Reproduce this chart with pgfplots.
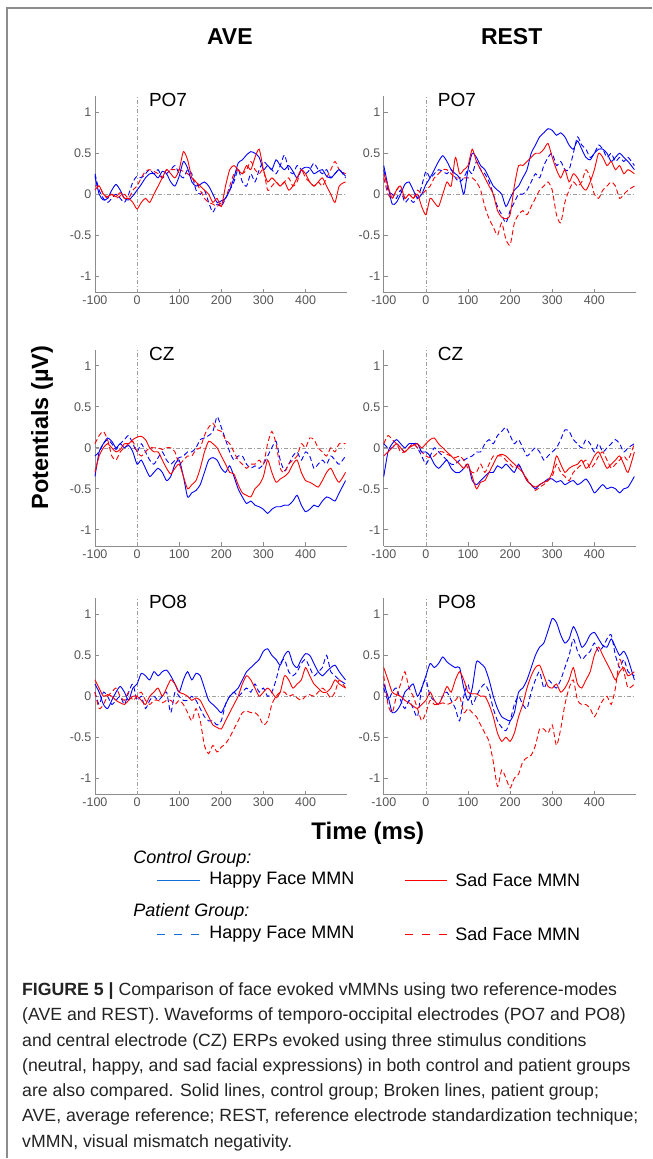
\documentclass[border=0pt]{standalone}
\usepackage{fontspec}
\setmainfont{Liberation Sans}
\usepackage{pgfplots}
\usepackage{pgfplotstable}
\pgfplotsset{compat=1.18}
\definecolor{mblue}{RGB}{0,0,255}
\definecolor{mred}{RGB}{255,0,0}
\definecolor{lblue}{RGB}{20,110,215}
\definecolor{axgray}{RGB}{140,140,140}
\definecolor{tkgray}{RGB}{85,85,85}
\definecolor{capgray}{RGB}{35,35,35}

% PO7 AVE
\pgfplotstableread{
x bs rs bd rd
-100 0.22 0.05 0.25 0.10
-90 0.00 0.10 0.05 0.10
-80 -0.07 0.00 -0.05 0.00
-70 -0.05 -0.03 -0.10 -0.05
-60 0.05 0.00 -0.05 0.00
-50 0.12 -0.03 0.00 -0.05
-40 0.05 0.02 -0.05 -0.02
-30 -0.05 -0.05 -0.10 0.00
-20 -0.07 -0.05 0.00 -0.05
-10 -0.02 -0.10 0.15 0.05
0 0.05 -0.18 0.22 0.10
10 0.12 -0.10 0.20 0.20
20 0.20 -0.05 0.25 0.28
30 0.25 -0.10 0.30 0.30
40 0.25 0.00 0.25 0.28
50 0.20 0.10 0.30 0.25
60 0.28 0.20 0.20 0.20
70 0.25 0.30 0.25 0.30
80 0.15 0.25 0.30 0.30
90 0.10 0.20 0.35 0.30
100 0.22 0.30 0.25 0.30
110 0.40 0.52 0.20 0.28
120 0.32 0.42 0.30 0.25
130 0.15 0.20 0.25 0.20
140 0.10 0.15 0.05 0.15
150 0.12 0.10 0.00 0.05
160 0.15 0.05 0.05 -0.05
170 0.10 0.00 -0.10 -0.10
180 0.00 -0.10 -0.22 -0.12
190 -0.10 -0.05 -0.12 -0.15
200 -0.08 -0.15 -0.15 -0.10
210 -0.05 0.10 -0.05 -0.05
220 0.05 0.30 0.05 0.10
230 0.20 0.35 0.15 0.25
240 0.38 0.30 0.30 0.30
250 0.42 0.25 0.15 0.25
260 0.48 0.35 0.10 0.30
270 0.52 0.30 0.25 0.40
280 0.50 0.45 0.15 0.30
290 0.45 0.55 0.30 0.25
300 0.30 0.30 0.40 0.30
310 0.35 0.15 0.35 0.05
320 0.30 0.20 0.30 0.10
330 0.42 0.15 0.25 0.15
340 0.35 0.10 0.35 0.10
350 0.30 0.15 0.48 0.15
360 0.35 0.05 0.30 0.20
370 0.28 0.10 0.25 0.10
380 0.20 0.20 0.35 0.15
390 0.30 0.30 0.30 0.30
400 0.33 0.25 0.25 0.20
410 0.32 0.15 0.30 0.15
420 0.25 0.10 0.38 0.10
430 0.28 0.15 0.30 0.15
440 0.30 0.20 0.25 0.10
450 0.22 0.10 0.30 0.20
460 0.20 0.00 0.20 0.30
470 0.25 -0.10 0.25 0.40
480 0.30 0.10 0.30 0.30
495 0.22 0.15 0.20 0.25
}\tA

% PO7 REST
\pgfplotstableread{
x bs rs bd rd
-100 0.35 0.25 0.30 0.20
-90 0.10 0.10 0.05 0.00
-80 -0.12 -0.05 0.00 -0.05
-70 -0.10 0.05 -0.05 0.05
-60 0.00 0.10 0.05 0.10
-50 0.12 -0.05 -0.10 -0.05
-40 0.15 0.00 -0.05 0.00
-30 0.05 -0.05 -0.10 -0.05
-20 -0.05 0.00 -0.05 0.05
-10 0.00 -0.15 0.10 0.00
0 0.12 -0.25 0.28 0.05
10 0.20 -0.05 0.20 0.10
20 0.30 -0.10 0.25 0.20
30 0.40 -0.15 0.30 0.25
40 0.47 0.00 0.28 0.30
50 0.40 0.15 0.25 0.30
60 0.30 0.10 0.30 0.25
70 0.25 0.45 0.20 0.20
80 0.20 0.25 0.15 0.20
90 0.00 0.30 0.20 0.20
100 0.30 0.35 0.30 0.20
110 0.50 0.55 0.25 0.20
120 0.45 0.40 0.40 0.15
130 0.35 0.30 0.30 0.05
140 0.30 0.20 0.25 -0.15
150 0.20 0.10 0.15 -0.30
160 0.10 0.00 0.00 -0.40
170 0.05 -0.20 -0.15 -0.50
180 0.00 -0.28 -0.25 -0.35
190 -0.15 -0.30 -0.35 -0.55
200 -0.05 -0.25 -0.20 -0.62
210 0.05 0.10 -0.10 -0.35
220 0.10 0.35 0.00 -0.25
230 0.20 0.35 0.00 -0.20
240 0.30 0.40 0.05 -0.25
250 0.50 0.45 0.15 -0.15
260 0.60 0.50 0.25 -0.05
270 0.70 0.50 0.20 0.05
280 0.75 0.55 0.35 0.10
290 0.80 0.62 0.45 0.15
300 0.78 0.45 0.50 0.05
310 0.72 0.30 0.35 -0.25
320 0.75 0.20 0.40 -0.35
330 0.70 0.30 0.30 -0.10
340 0.60 0.15 0.30 0.05
350 0.55 0.25 0.50 0.15
360 0.65 0.20 0.70 0.10
370 0.55 0.10 0.60 0.15
380 0.45 0.05 0.55 0.30
390 0.42 0.15 0.45 0.20
400 0.50 0.30 0.50 0.00
410 0.55 0.50 0.60 -0.05
420 0.55 0.45 0.55 0.05
430 0.50 0.35 0.45 0.10
440 0.40 0.40 0.50 0.15
450 0.45 0.30 0.40 0.10
460 0.50 0.35 0.45 -0.05
470 0.45 0.25 0.40 0.00
480 0.40 0.30 0.45 0.05
495 0.30 0.25 0.35 0.10
}\tB

% CZ AVE
\pgfplotstableread{
x bs rs bd rd
-100 -0.35 -0.30 -0.10 0.05
-90 -0.05 -0.10 -0.05 0.15
-80 0.05 0.00 0.05 0.20
-70 0.12 0.05 0.10 0.10
-60 0.08 0.00 0.05 -0.10
-50 0.00 -0.05 -0.02 -0.15
-40 0.05 -0.02 0.05 -0.05
-30 0.00 0.05 0.10 0.00
-20 0.03 0.05 0.15 0.05
-10 -0.05 0.10 0.05 0.08
0 -0.20 0.13 -0.05 -0.05
10 -0.15 0.14 0.05 -0.10
20 -0.25 0.10 -0.05 -0.05
30 -0.35 0.00 -0.15 0.00
40 -0.30 -0.05 -0.20 0.00
50 -0.25 -0.05 -0.12 0.00
60 -0.30 -0.15 -0.05 -0.02
70 -0.40 -0.25 -0.15 0.00
80 -0.35 -0.32 -0.20 0.00
90 -0.20 -0.25 -0.15 -0.05
100 -0.15 -0.20 -0.12 -0.20
110 -0.35 -0.35 -0.10 -0.15
120 -0.60 -0.50 -0.05 -0.10
130 -0.55 -0.45 -0.05 -0.10
140 -0.52 -0.40 0.00 -0.02
150 -0.45 -0.25 0.10 0.00
160 -0.30 -0.05 0.12 0.15
170 -0.15 0.08 0.15 0.25
180 -0.12 0.05 0.20 0.30
190 -0.15 0.00 0.38 0.22
200 -0.25 -0.10 0.25 0.20
210 -0.30 -0.20 0.10 0.10
220 -0.22 -0.30 -0.05 0.05
230 -0.35 -0.32 -0.15 -0.05
240 -0.50 -0.45 -0.10 -0.15
250 -0.60 -0.55 -0.10 -0.20
260 -0.68 -0.58 -0.20 -0.25
270 -0.65 -0.60 -0.25 -0.20
280 -0.70 -0.50 -0.22 -0.20
290 -0.72 -0.45 -0.25 -0.15
300 -0.75 -0.35 -0.20 -0.20
310 -0.80 -0.15 -0.10 0.05
320 -0.75 -0.30 0.00 0.20
330 -0.72 -0.42 0.08 0.05
340 -0.72 -0.38 -0.15 -0.25
350 -0.70 -0.35 -0.28 -0.30
360 -0.70 -0.30 -0.20 -0.20
370 -0.65 -0.20 -0.10 -0.15
380 -0.58 -0.15 -0.05 -0.10
390 -0.70 -0.30 -0.15 0.05
400 -0.78 -0.40 -0.05 0.00
410 -0.75 -0.42 -0.10 0.12
420 -0.70 -0.45 -0.25 0.10
430 -0.72 -0.48 -0.20 0.00
440 -0.65 -0.40 -0.15 -0.05
450 -0.60 -0.30 -0.20 -0.10
460 -0.62 -0.25 -0.10 0.00
470 -0.65 -0.35 -0.15 -0.05
480 -0.55 -0.42 -0.20 0.05
495 -0.40 -0.30 -0.10 0.05
}\tC

% CZ REST
\pgfplotstableread{
x bs rs bd rd
-100 -0.35 -0.10 0.05 0.05
-90 -0.05 -0.05 0.00 0.15
-80 0.05 0.00 0.00 0.10
-70 0.10 0.05 0.05 0.05
-60 0.05 0.00 0.00 -0.05
-50 0.00 -0.05 -0.05 -0.05
-40 0.05 0.00 0.00 0.00
-30 0.05 0.03 0.05 0.05
-20 0.05 0.05 0.00 0.00
-10 -0.05 0.00 -0.10 -0.05
0 -0.05 0.05 -0.20 -0.10
10 -0.10 0.10 -0.10 -0.12
20 -0.20 0.12 0.00 -0.10
30 -0.25 0.05 -0.05 -0.05
40 -0.20 0.00 -0.10 -0.05
50 -0.15 -0.05 -0.15 -0.08
60 -0.25 -0.10 -0.20 -0.10
70 -0.30 -0.15 -0.20 -0.12
80 -0.30 -0.20 -0.15 -0.10
90 -0.25 -0.25 -0.15 -0.15
100 -0.20 -0.20 -0.12 -0.25
110 -0.40 -0.35 -0.10 -0.30
120 -0.45 -0.50 -0.05 -0.30
130 -0.40 -0.42 -0.05 -0.20
140 -0.35 -0.40 0.05 -0.30
150 -0.30 -0.30 0.10 -0.20
160 -0.30 -0.20 0.05 -0.10
170 -0.22 -0.10 0.15 -0.10
180 -0.25 -0.08 0.20 -0.10
190 -0.20 -0.10 0.25 -0.15
200 -0.25 -0.15 0.15 -0.20
210 -0.30 -0.20 0.05 -0.25
220 -0.20 -0.25 0.10 -0.22
230 -0.30 -0.30 0.00 -0.30
240 -0.40 -0.40 -0.10 -0.38
250 -0.45 -0.45 -0.05 -0.45
260 -0.50 -0.48 0.00 -0.52
270 -0.45 -0.45 -0.05 -0.48
280 -0.42 -0.42 -0.15 -0.45
290 -0.38 -0.40 -0.10 -0.40
300 -0.38 -0.30 -0.05 -0.35
310 -0.42 -0.10 0.00 -0.20
320 -0.40 -0.20 0.10 -0.30
330 -0.45 -0.30 0.22 -0.35
340 -0.42 -0.25 0.20 -0.40
350 -0.40 -0.22 0.10 -0.30
360 -0.45 -0.20 0.05 -0.25
370 -0.42 -0.15 0.00 -0.20
380 -0.38 -0.25 0.10 -0.15
390 -0.45 -0.20 0.05 -0.25
400 -0.55 -0.10 -0.05 -0.20
410 -0.50 -0.05 0.05 -0.10
420 -0.45 -0.15 -0.05 -0.05
430 -0.50 -0.25 0.00 -0.15
440 -0.48 -0.20 0.05 -0.25
450 -0.50 -0.15 0.10 -0.20
460 -0.55 -0.10 0.05 -0.15
470 -0.50 -0.20 -0.05 -0.10
480 -0.48 -0.30 0.00 -0.15
495 -0.35 -0.05 0.05 0.05
}\tD

% PO8 AVE
\pgfplotstableread{
x bs rs bd rd
-100 0.15 0.20 0.05 0.05
-90 0.05 0.10 -0.10 -0.15
-80 -0.10 0.00 0.05 -0.10
-70 -0.15 0.02 0.00 0.00
-60 -0.05 0.00 -0.10 0.05
-50 0.05 -0.05 -0.05 0.10
-40 0.12 -0.08 0.00 0.00
-30 0.05 -0.10 -0.10 -0.05
-20 -0.05 -0.05 0.05 0.05
-10 0.10 0.00 0.15 -0.05
0 0.15 0.00 -0.05 0.00
10 0.28 -0.05 0.00 0.05
20 0.25 -0.10 -0.15 -0.05
30 0.20 0.00 -0.05 -0.10
40 0.30 0.05 0.00 -0.05
50 0.25 0.10 -0.05 -0.05
60 0.30 0.00 0.00 -0.08
70 0.32 0.10 0.05 -0.05
80 0.25 0.20 -0.20 -0.05
90 0.15 0.15 0.05 -0.10
100 0.05 0.05 0.00 -0.05
110 0.20 0.03 -0.05 -0.10
120 0.30 0.00 -0.05 -0.20
130 0.20 -0.05 0.00 -0.30
140 0.28 -0.02 -0.05 -0.15
150 0.25 -0.05 -0.15 -0.30
160 0.10 -0.15 -0.25 -0.60
170 -0.05 -0.25 -0.30 -0.70
180 -0.10 -0.35 -0.30 -0.60
190 -0.15 -0.38 -0.35 -0.68
200 -0.20 -0.40 -0.30 -0.62
210 -0.10 -0.30 -0.10 -0.58
220 0.00 -0.20 0.00 -0.50
230 0.05 -0.10 0.05 -0.40
240 0.10 0.00 0.00 -0.30
250 0.20 0.15 0.05 -0.20
260 0.30 0.25 0.10 -0.18
270 0.35 0.20 0.05 -0.20
280 0.40 0.10 0.15 -0.20
290 0.45 0.00 0.05 -0.25
300 0.55 0.05 0.10 -0.35
310 0.58 0.10 0.00 -0.30
320 0.50 0.05 0.05 -0.10
330 0.45 -0.02 0.20 0.00
340 0.38 0.05 0.40 0.05
350 0.50 0.25 0.45 0.05
360 0.55 0.20 0.30 0.00
370 0.40 0.10 0.25 0.02
380 0.35 0.15 0.30 -0.02
390 0.45 0.20 0.40 -0.05
400 0.52 0.35 0.45 0.00
410 0.50 0.25 0.35 0.02
420 0.40 0.15 0.25 0.00
430 0.30 0.10 0.30 0.05
440 0.25 0.05 0.35 0.10
450 0.30 0.05 0.50 0.05
460 0.35 0.10 0.30 -0.02
470 0.38 0.20 0.25 0.05
480 0.30 0.15 0.20 0.20
495 0.20 0.10 0.15 0.10
}\tE

% PO8 REST
\pgfplotstableread{
x bs rs bd rd
-100 0.15 0.35 0.10 0.25
-90 0.00 0.20 -0.05 -0.10
-80 -0.20 0.05 0.05 -0.20
-70 -0.18 0.02 0.10 0.00
-60 -0.10 0.00 -0.05 0.15
-50 0.05 -0.05 -0.15 0.30
-40 0.10 -0.08 -0.05 0.10
-30 0.15 -0.12 -0.15 0.00
-20 0.00 -0.15 -0.25 -0.15
-10 0.10 -0.10 0.10 -0.30
0 0.25 -0.05 0.20 -0.20
10 0.40 0.05 0.00 -0.05
20 0.35 -0.05 -0.05 -0.10
30 0.40 -0.10 -0.10 -0.10
40 0.48 0.00 0.00 -0.08
50 0.42 0.12 0.05 -0.10
60 0.38 0.05 -0.05 -0.08
70 0.35 0.20 -0.15 -0.05
80 0.35 0.30 -0.30 0.00
90 0.10 0.20 0.00 -0.20
100 -0.05 0.05 0.15 -0.15
110 0.10 0.03 -0.10 -0.20
120 0.42 0.03 0.00 -0.25
130 0.40 0.00 0.10 -0.35
140 0.35 0.00 0.15 -0.45
150 0.20 -0.10 0.05 -0.55
160 0.00 -0.25 -0.15 -0.80
170 -0.15 -0.45 -0.30 -1.10
180 -0.25 -0.55 -0.38 -0.90
190 -0.28 -0.50 -0.42 -1.00
200 -0.30 -0.55 -0.30 -1.12
210 -0.20 -0.45 -0.10 -1.00
220 0.05 -0.25 0.00 -0.95
230 0.10 -0.10 -0.10 -0.80
240 0.20 0.10 -0.15 -0.75
250 0.35 0.25 0.05 -0.72
260 0.50 0.35 0.20 -0.60
270 0.60 0.38 0.30 -0.40
280 0.65 0.25 0.10 -0.40
290 0.80 0.12 0.20 -0.45
300 0.95 0.10 0.15 -0.35
310 0.90 0.15 0.10 -0.60
320 0.75 0.05 0.20 -0.40
330 0.65 0.10 0.35 -0.10
340 0.70 0.20 0.50 0.10
350 0.85 0.35 0.70 0.20
360 0.75 0.15 0.55 -0.05
370 0.60 0.10 0.45 -0.10
380 0.65 0.20 0.50 -0.10
390 0.75 0.30 0.55 -0.15
400 0.78 0.50 0.65 -0.25
410 0.70 0.60 0.55 -0.15
420 0.62 0.50 0.60 -0.05
430 0.60 0.40 0.70 0.00
440 0.70 0.30 0.75 -0.10
450 0.60 0.20 0.50 0.10
460 0.50 0.30 0.35 0.45
470 0.55 0.35 0.45 0.30
480 0.45 0.25 0.30 0.10
495 0.20 0.30 0.25 0.15
}\tF

\pgfplotsset{
  eeg/.style={
    scale only axis, width=252pt, height=196.7pt, anchor=south west,
    xmin=-100, xmax=498, ymin=-1.2, ymax=1.2,
    axis x line=bottom, axis y line=left,
    axis line style={axgray, line width=0.8pt, -},
    tick align=inside, major tick length=4pt,
    tick style={axgray, line width=0.8pt},
    xtick={-100,0,100,200,300,400},
    ytick={-1,-0.5,0,0.5,1},
    /pgf/number format/assume math mode=true,
    /pgf/number format/fixed,
    ticklabel style={font=\fontsize{12.5}{14}\selectfont, text=tkgray},
    clip=false,
  },
  bs/.style={mblue, line width=0.9pt, smooth, tension=0.4, no marks},
  rs/.style={mred, line width=0.9pt, smooth, tension=0.4, no marks},
  bd/.style={mblue, line width=0.9pt, smooth, tension=0.4, no marks, dash pattern=on 5pt off 3pt},
  rd/.style={mred, line width=0.9pt, smooth, tension=0.4, no marks, dash pattern=on 5pt off 3pt},
  refl/.style={gray!75, line width=0.6pt, no marks, dash pattern=on 4pt off 2pt on 1pt off 2pt},
}
\newcommand{\panel}[4]{%
  \begin{axis}[eeg, at={(#1pt,#2pt)}]
    \addplot[refl] coordinates {(-100,0) (498,0)};
    \addplot[refl] coordinates {(0,-1.2) (0,1.2)};
    \addplot[bd] table[x=x,y=bd] {#3};
    \addplot[rd] table[x=x,y=rd] {#3};
    \addplot[bs] table[x=x,y=bs] {#3};
    \addplot[rs] table[x=x,y=rs] {#3};
    \node[anchor=west, font=\fontsize{19}{22}\selectfont, inner sep=0pt] at (axis cs:28,1.15) {#4};
  \end{axis}}

\begin{document}
\begin{tikzpicture}[x=1pt,y=1pt]
\path (0,0) rectangle (652,-1159);
\draw[axgray, line width=1.3pt] (7,-1159) -- (7,-8) -- (652,-8);

\node[font=\fontsize{23}{26}\selectfont\bfseries] at (230,-37) {AVE};
\node[font=\fontsize{23}{26}\selectfont\bfseries] at (512,-37) {REST};

\panel{95}{-292.7}{\tA}{PO7}
\panel{384}{-292.7}{\tB}{PO7}
\panel{95}{-546.4}{\tC}{CZ}
\panel{384}{-546.4}{\tD}{CZ}
\panel{95}{-795}{\tE}{PO8}
\panel{384}{-795}{\tF}{PO8}

\node[rotate=90, font=\fontsize{23.5}{26}\selectfont\bfseries] at (42,-428) {Potentials (µV)};
\node[font=\fontsize{24}{26}\selectfont\bfseries] at (368,-834) {Time (ms)};

% legend
\node[anchor=west, font=\fontsize{18}{20}\selectfont\itshape] at (130,-859) {Control Group:};
\draw[lblue, line width=1.4pt] (157,-881) -- (200,-881);
\node[anchor=west, font=\fontsize{18}{20}\selectfont] at (206,-881) {Happy Face MMN};
\draw[mred, line width=1.4pt] (405,-881) -- (447,-881);
\node[anchor=west, font=\fontsize{18}{20}\selectfont] at (452,-881) {Sad Face MMN};
\node[anchor=west, font=\fontsize{18}{20}\selectfont\itshape] at (130,-912) {Patient Group:};
\draw[lblue, line width=1.4pt, dash pattern=on 8pt off 9pt] (157,-935) -- (199,-935);
\node[anchor=west, font=\fontsize{18}{20}\selectfont] at (206,-935) {Happy Face MMN};
\draw[mred, line width=1.4pt, dash pattern=on 8pt off 9pt] (405,-935) -- (447,-935);
\node[anchor=west, font=\fontsize{18}{20}\selectfont] at (452,-935) {Sad Face MMN};

% caption
\begin{scope}[every node/.style={anchor=base west, inner sep=0pt, text=capgray, font=\fontsize{17.7}{20}\selectfont}]
\node at (22,-996) {\textbf{FIGURE 5 |} Comparison of face evoked vMMNs using two reference-modes};
\node at (22,-1021.3) {(AVE and REST). Waveforms of temporo-occipital electrodes (PO7 and PO8)};
\node at (22,-1046.6) {and central electrode (CZ) ERPs evoked using three stimulus conditions};
\node at (22,-1071.9) {(neutral, happy, and sad facial expressions) in both control and patient groups};
\node at (22,-1097.2) {are also compared. Solid lines, control group; Broken lines, patient group;};
\node at (22,-1122.5) {AVE, average reference; REST, reference electrode standardization technique;};
\node at (22,-1147.8) {vMMN, visual mismatch negativity.};
\end{scope}
\end{tikzpicture}
\end{document}
